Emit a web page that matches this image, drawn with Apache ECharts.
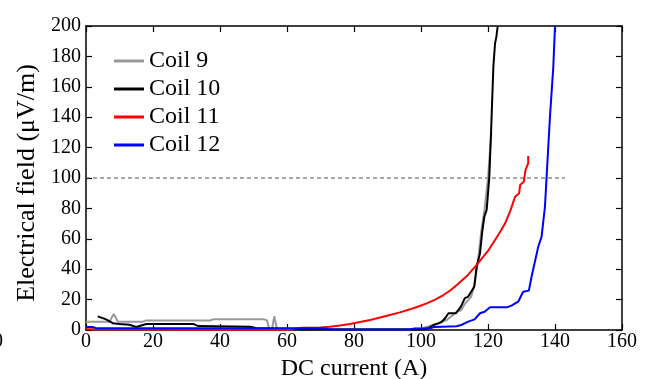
<!DOCTYPE html>
<html>
<head>
<meta charset="utf-8">
<script src="https://cdn.jsdelivr.net/npm/echarts@6/dist/echarts.min.js"></script>
<style>
html,body{margin:0;padding:0;background:#fff;}
#chart{width:648px;height:379px;}
</style>
</head>
<body>
<div id="chart"></div>
<script>
var seriesNames = ['Coil 9', 'Coil 10', 'Coil 11', 'Coil 12'];
var xTicks = [0, 20, 40, 60, 80, 100, 120, 140, 160];
var yTicks = [0, 20, 40, 60, 80, 100, 120, 140, 160, 180, 200];

var coil9X = [0, 7, 8.3, 9.5, 17, 18, 37, 38, 53, 54, 54.7, 55.5, 56.2, 57, 60, 70, 96, 100, 103.7, 107.7, 110.7, 112, 113, 115, 116, 117, 118, 119, 120, 121];
var coil9Y = [5.5, 5.5, 10.5, 5.5, 5.5, 6.3, 6.3, 7, 7, 6.5, 0.5, 0.5, 9, 0.8, 1, 0.5, 0.5, 1, 3.3, 6.6, 12, 13, 17, 22, 30, 45, 65, 80, 100, 130];

var coil10X = [3.5, 6, 8, 10, 13, 15, 18, 32, 33.5, 49, 51, 55, 65, 100, 102.2, 103.7, 105.5, 106.2, 107.2, 108.2, 110.4, 111.9, 113.1, 114.1, 115.9, 116.6, 117.6, 118.3, 118.9, 119.6, 120.4, 120.9, 121.6, 122.1, 122.5, 122.9];
var coil10Y = [9, 7, 4.5, 4, 3.5, 2, 4, 4, 2.6, 2.2, 1.1, 1, 0.3, 0.3, 1.1, 3.3, 4.5, 5.5, 7.7, 11, 11, 15.4, 21, 22, 28.5, 41.7, 50.4, 65, 74.5, 79, 100.9, 129.6, 173, 188.6, 193, 200];

var coil11X = [0, 2.5, 30, 60, 64, 70, 72.8, 75.8, 78.8, 81.8, 84.8, 87.8, 90.7, 93.7, 96.7, 99.2, 101.7, 104.2, 106.7, 108.7, 110.7, 113.7, 116.6, 118.3, 120, 122.1, 123.6, 125.1, 126.6, 128.1, 128.3, 129.3, 129.6, 130.7, 131.2, 132, 132];
var coil11Y = [0.5, 0.5, 0.2, 0.2, 1.4, 1.6, 2.2, 3, 3.9, 5.2, 6.6, 8.2, 9.9, 11.6, 13.6, 15.5, 17.5, 20, 23, 26, 29.6, 35.5, 42.8, 47.5, 52, 59.2, 64.5, 70.2, 78, 87.7, 88.5, 89.9, 95.4, 97.6, 105.3, 109.6, 114.5];

var coil12X = [0, 2, 3, 71, 72.8, 96.7, 98, 102.7, 104, 110.6, 112, 114.1, 116, 117.6, 119, 120.6, 125.6, 127, 129, 130.5, 132.2, 133, 135, 136, 137, 137.5, 138.5, 139.5, 140];
var coil12Y = [2, 2, 1.2, 1.2, 0.4, 0.4, 1, 1.2, 2, 2.5, 3.3, 5.5, 7, 11, 12, 14.9, 14.9, 16, 18.6, 25.2, 25.9, 35, 54.8, 61.4, 81.1, 100.9, 140.4, 173.3, 200];

var refLineX = [0, 143];
var refLineY = [100, 100];

var colors = ['#999999', '#000000', '#ff0000', '#0000ff'];
var FONT = "'Liberation Serif', 'Times New Roman', serif";

function pairs(xs, ys) {
  var out = [];
  for (var i = 0; i < xs.length; i++) out.push([xs[i], ys[i]]);
  return out;
}
var allX = [coil9X, coil10X, coil11X, coil12X];
var allY = [coil9Y, coil10Y, coil11Y, coil12Y];

var series = [{
  name: 'ref',
  type: 'line',
  data: pairs(refLineX, refLineY),
  symbol: 'none',
  silent: true,
  lineStyle: { color: '#555555', width: 1.2, type: [4, 3] },
  z: 1
}];
for (var i = 0; i < seriesNames.length; i++) {
  series.push({
    name: seriesNames[i],
    type: 'line',
    data: pairs(allX[i], allY[i]),
    symbol: 'none',
    color: colors[i],
    lineStyle: { color: colors[i], width: 2 },
    z: 2 + i
  });
}

var axisCommon = {
  type: 'value',
  axisLine: { show: true, onZero: false, lineStyle: { color: '#000', width: 1.5 } },
  axisTick: { show: true, inside: true, length: 6, lineStyle: { color: '#000', width: 1.2 } },
  splitLine: { show: false }
};

var chart = echarts.init(document.getElementById('chart'), null, { renderer: 'canvas' });
chart.setOption({
  animation: false,
  backgroundColor: '#ffffff',
  textStyle: { fontFamily: FONT },
  grid: { left: 86, right: 26, top: 26, bottom: 49, containLabel: false, outerBoundsMode: 'none' },
  legend: {
    data: seriesNames,
    orient: 'vertical',
    left: 114,
    top: 49,
    padding: 0,
    itemGap: 4,
    itemWidth: 30,
    itemHeight: 3,
    icon: 'rect',
    textStyle: { fontFamily: FONT, fontSize: 24, color: '#000' }
  },
  xAxis: [
    Object.assign({}, axisCommon, {
      position: 'bottom', min: xTicks[0], max: xTicks[xTicks.length - 1], interval: 20,
      name: 'DC current (A)', nameLocation: 'middle', nameGap: 22,
      nameTextStyle: { fontFamily: FONT, fontSize: 24, color: '#000' },
      axisLabel: { fontFamily: FONT, fontSize: 20, color: '#000', margin: 2 }
    }),
    Object.assign({}, axisCommon, {
      position: 'top', min: xTicks[0], max: xTicks[xTicks.length - 1], interval: 20,
      axisLabel: { show: false }
    })
  ],
  yAxis: [
    Object.assign({}, axisCommon, {
      position: 'left', min: yTicks[0], max: yTicks[yTicks.length - 1], interval: 20,
      name: 'Electrical field (\u03bcV/m)', nameLocation: 'middle', nameGap: 42,
      nameTextStyle: { fontFamily: FONT, fontSize: 26, color: '#000', padding: [0, 10, 0, 0] },
      axisLabel: { fontFamily: FONT, fontSize: 20, color: '#000', margin: 5 }
    }),
    Object.assign({}, axisCommon, {
      position: 'right', min: yTicks[0], max: yTicks[yTicks.length - 1], interval: 20,
      axisLabel: { show: false }
    })
  ],
  graphic: [{
    type: 'text', left: -7, top: 332,
    style: { text: '0', font: "20px 'Liberation Serif', serif", fill: '#000' }
  }],
  series: series
});
</script>
</body>
</html>
